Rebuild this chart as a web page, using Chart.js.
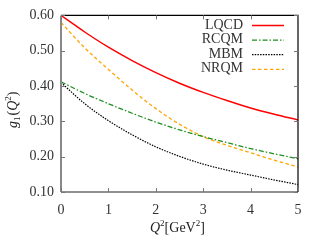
<!DOCTYPE html>
<html>
<head>
<meta charset="utf-8">
<script src="https://cdn.jsdelivr.net/npm/chart.js@4.4.0/dist/chart.umd.min.js"></script>
<style>
  html, body { margin: 0; padding: 0; background: #fff; }
  #wrap { width: 320px; height: 240px; }
</style>
</head>
<body>
<div id="wrap"><canvas id="chart" width="320" height="240"></canvas></div>
<script>
const q2 = [0, 0.5, 1, 1.5, 2, 2.5, 3, 3.5, 4, 4.5, 5];
const lqcd = [0.600, 0.553, 0.510, 0.472, 0.438, 0.408, 0.382, 0.359, 0.338, 0.320, 0.304];
const rcqm = [0.412, 0.379, 0.350, 0.323, 0.298, 0.276, 0.257, 0.240, 0.223, 0.208, 0.194];
const mbm = [0.410, 0.350, 0.302, 0.262, 0.228, 0.201, 0.179, 0.162, 0.148, 0.134, 0.121];
const nrqm = [0.580, 0.508, 0.447, 0.389, 0.336, 0.292, 0.257, 0.232, 0.211, 0.190, 0.171];
const xTicks = [0, 1, 2, 3, 4, 5];
const yTicks = [0.10, 0.20, 0.30, 0.40, 0.50, 0.60];

const serif = "'Liberation Serif', 'DejaVu Serif', serif";

function pts(ys) {
  return q2.map((x, i) => ({ x: x, y: ys[i] }));
}

const series = [
  { label: "LQCD", data: pts(lqcd), borderColor: "#ff0000", borderWidth: 1.5, borderDash: [] },
  { label: "RCQM", data: pts(rcqm), borderColor: "#1f8f1f", borderWidth: 1.3, borderDash: [5, 2, 1.5, 2] },
  { label: "MBM", data: pts(mbm), borderColor: "#000000", borderWidth: 1.2, borderDash: [1.5, 1.2] },
  { label: "NRQM", data: pts(nrqm), borderColor: "#ffa500", borderWidth: 1.3, borderDash: [3.5, 2.5] }
];

// frame, inward ticks, legend and axis titles
const decor = {
  id: "decor",
  afterDraw(chart) {
    const c = chart.ctx;
    const a = chart.chartArea;
    const xs = chart.scales.x, ys = chart.scales.y;
    c.save();
    // frame
    c.strokeStyle = "#000";
    c.lineWidth = 1.2;
    c.beginPath();
    c.moveTo(a.left, a.top); c.lineTo(a.right, a.top); c.lineTo(a.right, a.bottom);
    c.stroke();
    c.strokeStyle = "#222";
    c.beginPath();
    c.moveTo(a.left, a.bottom); c.lineTo(a.right, a.bottom);
    c.stroke();
    c.strokeStyle = "#888";
    c.lineWidth = 2;
    c.beginPath();
    c.moveTo(a.left, a.top); c.lineTo(a.left, a.bottom);
    c.stroke();
    // ticks
    c.strokeStyle = "#777";
    c.lineWidth = 1;
    c.beginPath();
    xTicks.forEach(v => {
      const px = Math.round(xs.getPixelForValue(v)) + 0.5;
      c.moveTo(px, a.bottom); c.lineTo(px, a.bottom - 4);
      c.moveTo(px, a.top); c.lineTo(px, a.top + 4);
    });
    yTicks.forEach(v => {
      const py = Math.round(ys.getPixelForValue(v)) + 0.5;
      c.moveTo(a.left, py); c.lineTo(a.left + 4, py);
      c.moveTo(a.right, py); c.lineTo(a.right - 4, py);
    });
    c.stroke();
    // legend
    c.font = "14px " + serif;
    c.textAlign = "right";
    c.textBaseline = "middle";
    series.forEach((s, i) => {
      const y = 25 + i * 14.6;
      c.fillStyle = "#333";
      c.fillText(s.label, 243, y);
      c.strokeStyle = s.borderColor;
      c.lineWidth = s.borderWidth;
      c.setLineDash(s.borderDash);
      c.beginPath();
      c.moveTo(252, y + 0.5); c.lineTo(284, y + 0.5);
      c.stroke();
      c.setLineDash([]);
    });
    // axis titles
    c.fillStyle = "#222";
    c.textAlign = "left";
    c.textBaseline = "alphabetic";
    let x = 150, y = 232;
    c.font = "italic 14px " + serif; c.fillText("Q", x, y); x += c.measureText("Q").width;
    c.font = "9px " + serif; c.fillText("2", x, y - 6); x += c.measureText("2").width;
    c.font = "14px " + serif; c.fillText("[GeV", x, y); x += c.measureText("[GeV").width;
    c.font = "9px " + serif; c.fillText("2", x, y - 6); x += c.measureText("2").width;
    c.font = "14px " + serif; c.fillText("]", x, y);
    c.translate(17, 104);
    c.rotate(-Math.PI / 2);
    c.textAlign = "left";
    let t = -24;
    c.font = "italic 14px " + serif; c.fillText("g", t, 0); t += c.measureText("g").width;
    c.font = "9px " + serif; c.fillText("1", t, 3); t += c.measureText("1").width + 1;
    c.font = "14px " + serif; c.fillText("(", t, 0); t += c.measureText("(").width;
    c.font = "italic 14px " + serif; c.fillText("Q", t, 0); t += c.measureText("Q").width;
    c.font = "9px " + serif; c.fillText("2", t, -6); t += c.measureText("2").width;
    c.font = "14px " + serif; c.fillText(")", t, 0);
    c.restore();
  }
};

new Chart(document.getElementById("chart").getContext("2d"), {
  type: "line",
  data: {
    datasets: series.map(s => ({
      label: s.label,
      data: s.data,
      borderColor: s.borderColor,
      borderWidth: s.borderWidth,
      borderDash: s.borderDash,
      pointRadius: 0,
      cubicInterpolationMode: "monotone",
      fill: false
    }))
  },
  options: {
    responsive: false,
    animation: false,
    layout: { padding: { top: 14, right: 22, left: 0, bottom: 0 } },
    plugins: { legend: { display: false }, tooltip: { enabled: false } },
    scales: {
      x: {
        type: "linear",
        min: 0,
        max: 5,
        afterFit: s => { s.height = 48; },
        afterBuildTicks: s => { s.ticks = xTicks.map(v => ({ value: v })); },
        grid: { display: false, drawTicks: false },
        border: { display: false },
        ticks: { padding: 10, color: "#333", font: { family: serif, size: 14 } }
      },
      y: {
        min: 0.10,
        max: 0.60,
        afterFit: s => { s.width = 61; },
        afterBuildTicks: s => { s.ticks = yTicks.map(v => ({ value: v })); },
        grid: { display: false, drawTicks: false },
        border: { display: false },
        ticks: {
          padding: 7,
          color: "#333",
          font: { family: serif, size: 14 },
          callback: v => v.toFixed(2)
        }
      }
    }
  },
  plugins: [decor]
});
</script>
</body>
</html>
